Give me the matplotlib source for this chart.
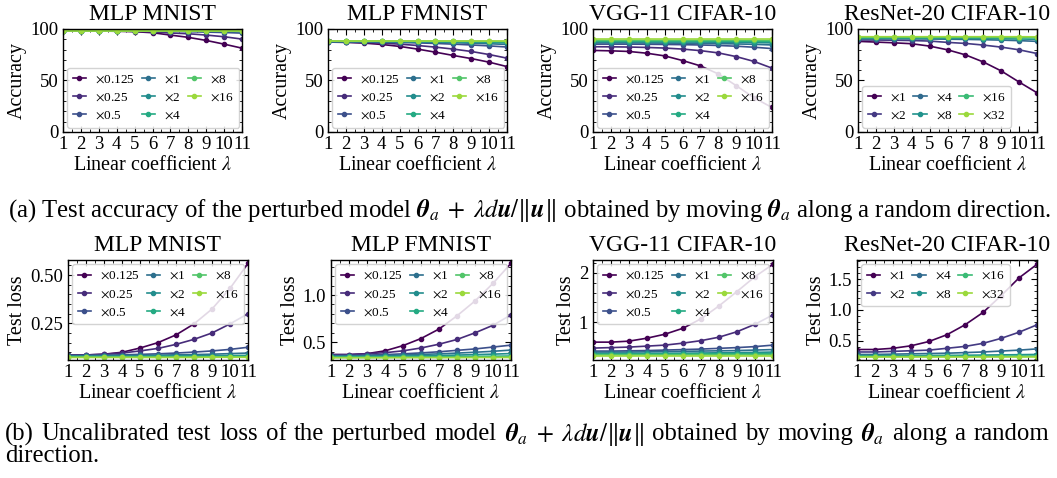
import numpy as np
import matplotlib
matplotlib.use("Agg")
import matplotlib.pyplot as plt
from matplotlib.ticker import MultipleLocator, AutoMinorLocator, FormatStrFormatter

plt.rcParams['font.family'] = 'serif'
plt.rcParams['font.serif'] = ['Liberation Serif', 'DejaVu Serif']
plt.rcParams['mathtext.fontset'] = 'stix'

lam = [1, 2, 3, 4, 5, 6, 7, 8, 9, 10, 11]
scales_mlp = ["0.125", "0.25", "0.5", "1", "2", "4", "8", "16"]
scales_resnet = ["1", "2", "4", "8", "16", "32"]

# accuracy
acc_mnist = [
    [98.2, 98.1, 98.0, 97.8, 97.4, 96.4, 94.1, 91.9, 88.9, 85.3, 81.4],
    [98.2, 98.2, 98.1, 98.0, 97.8, 97.3, 96.1, 95.4, 94.1, 92.5, 90.2],
    [98.2, 98.2, 98.2, 98.1, 98.0, 97.9, 97.7, 97.4, 97.0, 96.6, 96.0],
    [98.2, 98.2, 98.2, 98.2, 98.1, 98.1, 98.0, 97.9, 97.8, 97.6, 97.4],
    [98.3, 98.3, 98.3, 98.3, 98.2, 98.2, 98.2, 98.1, 98.1, 98.0, 98.0],
    [98.3, 98.3, 98.3, 98.3, 98.3, 98.3, 98.3, 98.2, 98.2, 98.2, 98.2],
    [98.4, 98.4, 98.4, 98.4, 98.4, 98.4, 98.4, 98.4, 98.4, 98.4, 98.3],
    [98.4, 98.4, 98.4, 98.4, 98.4, 98.4, 98.4, 98.4, 98.4, 98.4, 98.4],
]
acc_fmnist = [
    [87.3, 87.0, 86.3, 85.0, 83.1, 80.5, 77.5, 74.3, 71.3, 67.8, 63.5],
    [87.3, 87.3, 87.0, 86.3, 85.3, 84.0, 82.4, 80.5, 78.2, 75.2, 71.7],
    [87.5, 87.5, 87.4, 87.2, 86.9, 86.5, 86.0, 85.3, 84.5, 83.6, 82.5],
    [87.8, 87.8, 87.7, 87.6, 87.5, 87.3, 87.0, 86.7, 86.2, 85.7, 85.0],
    [88.0, 88.0, 88.0, 87.9, 87.8, 87.7, 87.6, 87.4, 87.2, 86.9, 86.5],
    [88.1, 88.1, 88.1, 88.1, 88.0, 88.0, 88.0, 87.9, 87.8, 87.7, 87.5],
    [88.2, 88.2, 88.2, 88.2, 88.2, 88.2, 88.2, 88.1, 88.1, 88.1, 88.0],
    [88.4, 88.4, 88.4, 88.4, 88.4, 88.4, 88.4, 88.4, 88.4, 88.4, 88.4],
]
acc_vgg = [
    [79.2, 78.8, 78.2, 76.5, 73.9, 69.4, 64.2, 56.4, 45.0, 33.2, 23.8],
    [82.8, 82.7, 82.5, 82.1, 81.5, 80.5, 79.0, 76.8, 73.2, 68.5, 62.0],
    [85.3, 85.3, 85.3, 85.2, 85.0, 84.8, 84.5, 84.0, 83.3, 82.3, 81.0],
    [86.5, 86.5, 86.5, 86.4, 86.3, 86.2, 86.0, 85.8, 85.5, 85.1, 84.5],
    [87.5, 87.5, 87.5, 87.5, 87.4, 87.4, 87.3, 87.2, 87.0, 86.8, 86.5],
    [88.3, 88.3, 88.3, 88.3, 88.3, 88.3, 88.2, 88.2, 88.2, 88.1, 88.0],
    [89.0, 89.0, 89.0, 89.0, 89.0, 89.0, 89.0, 89.0, 89.0, 89.0, 88.9],
    [90.0, 90.0, 90.0, 90.0, 90.0, 90.0, 90.0, 90.0, 90.0, 90.0, 90.0],
]
acc_resnet = [
    [88.0, 87.3, 86.6, 85.7, 83.4, 79.8, 74.9, 68.0, 59.3, 48.5, 38.1],
    [89.3, 89.3, 89.1, 88.8, 88.3, 87.0, 86.0, 84.4, 82.4, 79.8, 76.2],
    [90.5, 90.5, 90.5, 90.4, 90.3, 90.1, 89.9, 89.6, 89.2, 88.7, 88.0],
    [91.0, 91.0, 91.0, 91.0, 91.0, 90.9, 90.8, 90.7, 90.5, 90.3, 90.0],
    [91.8, 91.8, 91.8, 91.8, 91.8, 91.8, 91.8, 91.7, 91.7, 91.6, 91.5],
    [92.5, 92.5, 92.5, 92.5, 92.5, 92.5, 92.5, 92.5, 92.5, 92.5, 92.4],
]

# loss
loss_mnist = [
    [0.086, 0.086, 0.090, 0.100, 0.122, 0.150, 0.190, 0.247, 0.324, 0.431, 0.560],
    [0.085, 0.086, 0.090, 0.096, 0.107, 0.120, 0.141, 0.167, 0.200, 0.247, 0.300],
    [0.084, 0.084, 0.085, 0.087, 0.089, 0.092, 0.096, 0.101, 0.107, 0.115, 0.126],
    [0.082, 0.082, 0.083, 0.083, 0.084, 0.085, 0.087, 0.088, 0.090, 0.093, 0.096],
    [0.079, 0.079, 0.079, 0.080, 0.080, 0.081, 0.081, 0.082, 0.082, 0.083, 0.084],
    [0.077, 0.077, 0.077, 0.077, 0.077, 0.078, 0.078, 0.078, 0.078, 0.079, 0.079],
    [0.075, 0.075, 0.075, 0.075, 0.075, 0.075, 0.075, 0.076, 0.076, 0.076, 0.076],
    [0.073, 0.073, 0.073, 0.073, 0.073, 0.073, 0.073, 0.073, 0.074, 0.074, 0.074],
]
loss_fmnist = [
    [0.370, 0.370, 0.380, 0.410, 0.465, 0.540, 0.640, 0.780, 0.937, 1.123, 1.335],
    [0.370, 0.370, 0.380, 0.390, 0.410, 0.440, 0.480, 0.530, 0.600, 0.680, 0.790],
    [0.360, 0.360, 0.365, 0.370, 0.378, 0.388, 0.400, 0.415, 0.430, 0.450, 0.470],
    [0.355, 0.355, 0.358, 0.362, 0.366, 0.372, 0.378, 0.386, 0.395, 0.405, 0.418],
    [0.350, 0.350, 0.351, 0.353, 0.355, 0.358, 0.361, 0.365, 0.370, 0.375, 0.381],
    [0.345, 0.345, 0.346, 0.346, 0.347, 0.348, 0.349, 0.350, 0.351, 0.353, 0.355],
    [0.340, 0.340, 0.340, 0.341, 0.341, 0.342, 0.342, 0.343, 0.343, 0.344, 0.345],
    [0.337, 0.337, 0.337, 0.337, 0.338, 0.338, 0.338, 0.338, 0.339, 0.339, 0.340],
]
loss_vgg = [
    [0.60, 0.60, 0.62, 0.68, 0.76, 0.88, 1.07, 1.33, 1.62, 1.92, 2.17],
    [0.48, 0.49, 0.50, 0.52, 0.54, 0.58, 0.63, 0.70, 0.81, 0.96, 1.15],
    [0.42, 0.42, 0.425, 0.43, 0.44, 0.45, 0.46, 0.475, 0.49, 0.51, 0.54],
    [0.40, 0.40, 0.40, 0.405, 0.41, 0.415, 0.42, 0.425, 0.43, 0.44, 0.45],
    [0.37, 0.37, 0.372, 0.374, 0.376, 0.378, 0.381, 0.385, 0.389, 0.394, 0.40],
    [0.36, 0.36, 0.36, 0.361, 0.362, 0.363, 0.364, 0.365, 0.366, 0.368, 0.37],
    [0.345, 0.345, 0.345, 0.345, 0.345, 0.346, 0.346, 0.346, 0.347, 0.347, 0.348],
    [0.33, 0.33, 0.33, 0.33, 0.33, 0.33, 0.33, 0.33, 0.33, 0.33, 0.33],
]
loss_resnet = [
    [0.36, 0.36, 0.38, 0.42, 0.49, 0.60, 0.76, 0.96, 1.23, 1.52, 1.74],
    [0.32, 0.32, 0.33, 0.34, 0.35, 0.38, 0.41, 0.46, 0.54, 0.64, 0.76],
    [0.28, 0.28, 0.285, 0.29, 0.295, 0.30, 0.31, 0.32, 0.335, 0.35, 0.37],
    [0.26, 0.26, 0.261, 0.262, 0.263, 0.265, 0.267, 0.27, 0.273, 0.276, 0.28],
    [0.25, 0.25, 0.25, 0.25, 0.25, 0.251, 0.251, 0.252, 0.252, 0.253, 0.254],
    [0.24, 0.24, 0.24, 0.24, 0.24, 0.24, 0.24, 0.24, 0.24, 0.24, 0.24],
]

titles = ["MLP MNIST", "MLP FMNIST", "VGG-11 CIFAR-10", "ResNet-20 CIFAR-10"]
acc_all = [acc_mnist, acc_fmnist, acc_vgg, acc_resnet]
loss_all = [loss_mnist, loss_fmnist, loss_vgg, loss_resnet]
loss_ylims = [(0.06, 0.578), (0.313, 1.37), (0.24, 2.255), (0.19, 1.81)]
loss_steps = [0.25, 0.5, 1, 0.5]
loss_fmts = ["%.2f", "%.1f", "%.0f", "%.1f"]

W, H = 1057, 478
fig = plt.figure(figsize=(W / 100, H / 100), dpi=100)


def style_ax(ax):
    ax.set_xlim(1, 11)
    ax.set_xticks(lam)
    ax.xaxis.set_minor_locator(AutoMinorLocator(2))
    ax.yaxis.set_minor_locator(AutoMinorLocator(5))
    ax.tick_params(which='both', direction='in', top=True, right=True, labelsize=13.5)
    ax.tick_params(which='major', length=4, width=0.8)
    ax.tick_params(which='minor', length=2, width=0.6)
    ax.tick_params(axis='x', pad=3)
    ax.set_xlabel(r"Linear coefficient $\lambda$", fontsize=14.5, labelpad=2)
    for s in ax.spines.values():
        s.set_linewidth(1.0)


def draw_lines(ax, series):
    n = len(series)
    labels = scales_mlp if n == 8 else scales_resnet
    colors = plt.cm.viridis(np.linspace(0, 0.85, n))
    for i in range(n):
        ax.plot(lam, series[i], color=colors[i], marker='o', markersize=3,
                linewidth=1.2, label=r"$\times$" + labels[i])


def add_legend(ax, where):
    ax.legend(loc=where, ncol=3, fontsize=9.5, handlelength=1.0,
              columnspacing=0.5, handletextpad=0.7, labelspacing=0.45,
              borderaxespad=0.3, borderpad=0.45, fancybox=True, framealpha=0.85)


top_lefts = [63, 328, 593, 858]
bot_lefts = [68, 331, 593, 857]

for k in range(4):
    ax = fig.add_axes([top_lefts[k] / W, 1 - 132 / H, 179 / W, 103 / H])
    draw_lines(ax, acc_all[k])
    style_ax(ax)
    ax.set_ylim(0, 100)
    ax.yaxis.set_major_locator(MultipleLocator(50))
    ax.set_ylabel("Accuracy", fontsize=14.5, labelpad=2)
    ax.set_title(titles[k], fontsize=17, pad=6.5)
    add_legend(ax, 'lower left')

    ax = fig.add_axes([bot_lefts[k] / W, 1 - 360 / H, 180 / W, 100 / H])
    draw_lines(ax, loss_all[k])
    style_ax(ax)
    ax.set_ylim(*loss_ylims[k])
    ax.yaxis.set_major_locator(MultipleLocator(loss_steps[k]))
    ax.yaxis.set_major_formatter(FormatStrFormatter(loss_fmts[k]))
    ax.set_ylabel("Test loss", fontsize=14.5, labelpad=2)
    ax.set_title(titles[k], fontsize=17, pad=6.5)
    add_legend(ax, 'upper left')

pert = r"$\mathbfit{\theta}_a\;+\;\lambda d\mathbfit{u}/\Vert\mathbfit{u}\Vert$"
theta = r"$\mathbfit{\theta}_a$"
cap_size = 17.8

fig.text(8 / W, 1 - 211 / H, "(a) Test accuracy of the perturbed model " + pert +
         " obtained by moving " + theta + " along a random direction.",
         fontsize=cap_size, ha='left', va='center')

# caption (b), first line justified over the full width
words = ["(b)", "Uncalibrated", "test", "loss", "of", "the", "perturbed", "model",
         pert, "obtained", "by", "moving", theta, "along", "a", "random"]
fig.canvas.draw()
r = fig.canvas.get_renderer()
items = []
total = 0
for w in words:
    t = fig.text(0, 1 - 434 / H, w, fontsize=cap_size, ha='left', va='center')
    wd = t.get_window_extent(renderer=r).width
    items.append((t, wd))
    total += wd
x0, x1 = 5, 1049
gap = (x1 - x0 - total) / (len(words) - 1)
x = x0
for t, wd in items:
    t.set_x(x / W)
    x += wd + gap
fig.text(5 / W, 1 - 456 / H, "direction.", fontsize=cap_size, ha='left', va='center')

fig.savefig("out.png", dpi=100)
